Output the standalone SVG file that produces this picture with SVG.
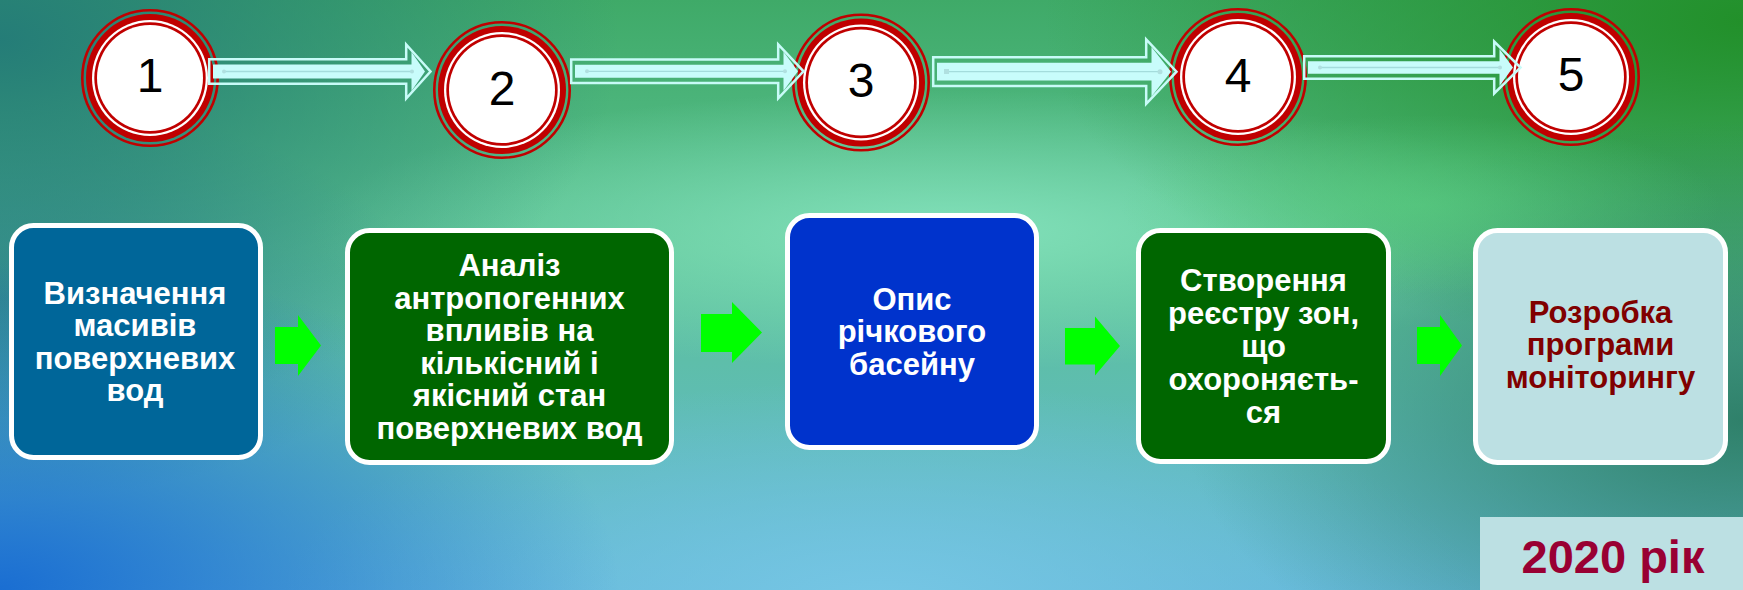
<svg xmlns="http://www.w3.org/2000/svg" width="1743" height="590" viewBox="0 0 1743 590">
<defs>
<linearGradient id="bgBase" x1="0" y1="0" x2="0" y2="1">
<stop offset="0" stop-color="#3faa68"/>
<stop offset="0.42" stop-color="#5cc294"/>
<stop offset="1" stop-color="#62b6d6"/>
</linearGradient>
<radialGradient id="gTL" cx="0" cy="0" r="1" gradientUnits="userSpaceOnUse" gradientTransform="translate(0,40) scale(620,380)">
<stop offset="0" stop-color="#237a78" stop-opacity="0.95"/>
<stop offset="1" stop-color="#237a78" stop-opacity="0"/>
</radialGradient>
<radialGradient id="gTR" cx="0" cy="0" r="1" gradientUnits="userSpaceOnUse" gradientTransform="translate(1743,20) scale(700,330)">
<stop offset="0" stop-color="#22902a" stop-opacity="1"/>
<stop offset="1" stop-color="#22902a" stop-opacity="0"/>
</radialGradient>
<radialGradient id="gR" cx="0" cy="0" r="1" gradientUnits="userSpaceOnUse" gradientTransform="translate(1743,420) scale(560,300)">
<stop offset="0" stop-color="#2a7a62" stop-opacity="0.9"/>
<stop offset="1" stop-color="#2a7a62" stop-opacity="0"/>
</radialGradient>
<radialGradient id="gBL" cx="0" cy="0" r="1" gradientUnits="userSpaceOnUse" gradientTransform="translate(0,590) scale(620,330)">
<stop offset="0" stop-color="#1a6ed2" stop-opacity="1"/>
<stop offset="1" stop-color="#1a6ed2" stop-opacity="0"/>
</radialGradient>
<radialGradient id="gL" cx="0" cy="0" r="1" gradientUnits="userSpaceOnUse" gradientTransform="translate(0,300) scale(420,200)">
<stop offset="0" stop-color="#2e8296" stop-opacity="0.8"/>
<stop offset="1" stop-color="#2e8296" stop-opacity="0"/>
</radialGradient>
<radialGradient id="gC" cx="0" cy="0" r="1" gradientUnits="userSpaceOnUse" gradientTransform="translate(950,230) scale(640,140)">
<stop offset="0" stop-color="#84e2bc" stop-opacity="0.95"/>
<stop offset="1" stop-color="#84e2bc" stop-opacity="0"/>
</radialGradient>
<radialGradient id="gG" cx="0" cy="0" r="1" gradientUnits="userSpaceOnUse" gradientTransform="translate(1420,205) scale(300,90)">
<stop offset="0" stop-color="#58cc80" stop-opacity="0.7"/>
<stop offset="1" stop-color="#58cc80" stop-opacity="0"/>
</radialGradient>
<radialGradient id="gBC" cx="0" cy="0" r="1" gradientUnits="userSpaceOnUse" gradientTransform="translate(880,600) scale(600,220)">
<stop offset="0" stop-color="#78c8e6" stop-opacity="0.9"/>
<stop offset="1" stop-color="#78c8e6" stop-opacity="0"/>
</radialGradient>
<style>
.ring{fill:none;stroke:#c00000;stroke-width:2.6}
.red{fill:#c00000}
.wht{fill:#ffffff}
.num{font-family:"Liberation Sans",Arial,sans-serif;font-size:48px;fill:#000000;text-anchor:middle}
.aout{fill:none;stroke:#c8fbf8;stroke-width:2.5;stroke-linejoin:miter}
.ain{fill:#c8fcfb}
.aline{stroke:#a4dcdc;stroke-width:1.3;fill:none}
.adot{fill:#b0e0e0}
.garrow{fill:#00ff00}
.box{stroke:#ffffff;stroke-width:5}
.bt{font-family:"Liberation Sans",Arial,sans-serif;font-size:31px;font-weight:bold;fill:#ffffff;text-anchor:middle}
.bt5{fill:#800000}
</style>
</defs>
<g id="background">
<rect x="0" y="0" width="1743" height="590" fill="url(#bgBase)"/>
<rect x="0" y="0" width="1743" height="590" fill="url(#gBC)"/>
<rect x="0" y="0" width="1743" height="590" fill="url(#gC)"/>
<rect x="0" y="0" width="1743" height="590" fill="url(#gL)"/>
<rect x="0" y="0" width="1743" height="590" fill="url(#gTL)"/>
<rect x="0" y="0" width="1743" height="590" fill="url(#gTR)"/>
<rect x="0" y="0" width="1743" height="590" fill="url(#gR)"/>
<rect x="0" y="0" width="1743" height="590" fill="url(#gG)"/>
<rect x="0" y="0" width="1743" height="590" fill="url(#gBL)"/>
</g>

<g id="circle1">
<circle class="ring" cx="150" cy="78" r="67.7"/>
<circle class="red" cx="150" cy="78" r="64"/>
<circle class="wht" cx="150" cy="78" r="58"/>
<circle class="red" cx="150" cy="78" r="55.7"/>
<circle class="wht" cx="150" cy="78" r="53"/>
<text class="num" x="150" y="92">1</text>
</g>
<g id="circle2">
<circle class="ring" cx="502" cy="90" r="67.7"/>
<circle class="red" cx="502" cy="90" r="64"/>
<circle class="wht" cx="502" cy="90" r="58"/>
<circle class="red" cx="502" cy="90" r="55.7"/>
<circle class="wht" cx="502" cy="90" r="53"/>
<text class="num" x="502" y="105">2</text>
</g>
<g id="circle3">
<circle class="ring" cx="861" cy="82.5" r="67.7"/>
<circle class="red" cx="861" cy="82.5" r="64"/>
<circle class="wht" cx="861" cy="82.5" r="58"/>
<circle class="red" cx="861" cy="82.5" r="55.7"/>
<circle class="wht" cx="861" cy="82.5" r="53"/>
<text class="num" x="861" y="97">3</text>
</g>
<g id="circle4">
<circle class="ring" cx="1238" cy="77" r="67.7"/>
<circle class="red" cx="1238" cy="77" r="64"/>
<circle class="wht" cx="1238" cy="77" r="58"/>
<circle class="red" cx="1238" cy="77" r="55.7"/>
<circle class="wht" cx="1238" cy="77" r="53"/>
<text class="num" x="1238" y="92">4</text>
</g>
<g id="circle5">
<circle class="ring" cx="1571" cy="77" r="67.7"/>
<circle class="red" cx="1571" cy="77" r="64"/>
<circle class="wht" cx="1571" cy="77" r="58"/>
<circle class="red" cx="1571" cy="77" r="55.7"/>
<circle class="wht" cx="1571" cy="77" r="53"/>
<text class="num" x="1571" y="91">5</text>
</g>

<g id="connectors">
<polygon class="aout" points="209.2,59.2 406.2,59.2 406.2,44.5 430.5,71.5 406.2,98.5 406.2,83.8 209.2,83.8"/>
<polygon class="ain" points="213,64.5 411.5,64.5 411.5,52 425,71.5 411.5,91 411.5,78.5 213,78.5"/>
<line class="aline" x1="224" y1="71.5" x2="412" y2="71.5"/>
<circle class="adot" cx="224" cy="71.5" r="2"/>
<circle class="adot" cx="412" cy="71.5" r="2"/>

<polygon class="aout" points="571.2,59.5 778.2,59.5 778.2,44.3 803.5,71.3 778.2,98.3 778.2,83.1 571.2,83.1"/>
<polygon class="ain" points="575,64.8 783.5,64.8 783.5,51.8 798,71.3 783.5,90.8 783.5,77.8 575,77.8"/>
<line class="aline" x1="587" y1="71.3" x2="785" y2="71.3"/>
<circle class="adot" cx="587" cy="71.3" r="2"/>
<circle class="adot" cx="785" cy="71.3" r="2"/>

<polygon class="aout" points="933.2,57.3 1146.2,57.3 1146.2,39.5 1176.5,71.7 1146.2,103.9 1146.2,86.1 933.2,86.1"/>
<polygon class="ain" points="937,62.8 1151.5,62.8 1151.5,47 1171,71.7 1151.5,96.4 1151.5,80.6 937,80.6"/>
<line class="aline" x1="947" y1="71.7" x2="1160" y2="71.7"/>
<rect class="adot" x="944" y="69" width="5" height="5"/>
<circle class="adot" cx="1160" cy="71.7" r="2.5"/>

<polygon class="aout" points="1304.2,56.2 1494.2,56.2 1494.2,41.5 1520.5,67.5 1494.2,93.5 1494.2,78.8 1304.2,78.8"/>
<polygon class="ain" points="1308,61.3 1499.5,61.3 1499.5,49 1513,67.5 1499.5,86 1499.5,73.7 1308,73.7"/>
<line class="aline" x1="1320" y1="67.5" x2="1500" y2="67.5"/>
<circle class="adot" cx="1320" cy="67.5" r="2"/>
<circle class="adot" cx="1500" cy="67.5" r="2"/>

<polygon class="garrow" points="275,327 298,327 298,315 321,345.5 298,376 298,364 275,364"/>
<polygon class="garrow" points="701,314 732,314 732,302 762,332.5 732,363 732,352 701,352"/>
<polygon class="garrow" points="1065,328 1095,328 1095,316.5 1120,346 1095,375.5 1095,364.5 1065,364.5"/>
<polygon class="garrow" points="1417,327 1440,327 1440,315 1462,345.5 1440,376 1440,364 1417,364"/>
</g>

<g id="box1">
<rect class="box" x="11.5" y="225.5" width="249" height="232" rx="22" fill="#006699"/>
<text class="bt" x="135" y="303.5">Визначення</text>
<text class="bt" x="135" y="336">масивів</text>
<text class="bt" x="135" y="368.5">поверхневих</text>
<text class="bt" x="135" y="401">вод</text>
</g>
<g id="box2">
<rect class="box" x="347.5" y="230.5" width="324" height="232" rx="22" fill="#006600"/>
<text class="bt" x="509.5" y="276.3">Аналіз</text>
<text class="bt" x="509.5" y="308.8">антропогенних</text>
<text class="bt" x="509.5" y="341.3">впливів на</text>
<text class="bt" x="509.5" y="373.8">кількісний і</text>
<text class="bt" x="509.5" y="406.3">якісний стан</text>
<text class="bt" x="509.5" y="438.8">поверхневих вод</text>
</g>
<g id="box3">
<rect class="box" x="787.5" y="215.5" width="249" height="232" rx="22" fill="#0033cc"/>
<text class="bt" x="912" y="309.5">Опис</text>
<text class="bt" x="912" y="342">річкового</text>
<text class="bt" x="912" y="374.5">басейну</text>
</g>
<g id="box4">
<rect class="box" x="1138.5" y="230.5" width="250" height="231" rx="22" fill="#006600"/>
<text class="bt" x="1263.5" y="291">Створення</text>
<text class="bt" x="1263.5" y="324">реєстру зон,</text>
<text class="bt" x="1263.5" y="357">що</text>
<text class="bt" x="1263.5" y="390">охороняєть-</text>
<text class="bt" x="1263.5" y="423">ся</text>
</g>
<g id="box5">
<rect class="box" x="1475.5" y="230.5" width="250" height="232" rx="22" fill="#bce0e3"/>
<text class="bt bt5" x="1600.5" y="322.5">Розробка</text>
<text class="bt bt5" x="1600.5" y="355">програми</text>
<text class="bt bt5" x="1600.5" y="387.5">моніторингу</text>
</g>
<g id="year">
<rect x="1480" y="517" width="263" height="73" fill="#bce0e3"/>
<text x="1613" y="573" font-family="'Liberation Sans',Arial,sans-serif" font-size="47" font-weight="bold" fill="#990033" text-anchor="middle">2020 рік</text>
</g>
</svg>
